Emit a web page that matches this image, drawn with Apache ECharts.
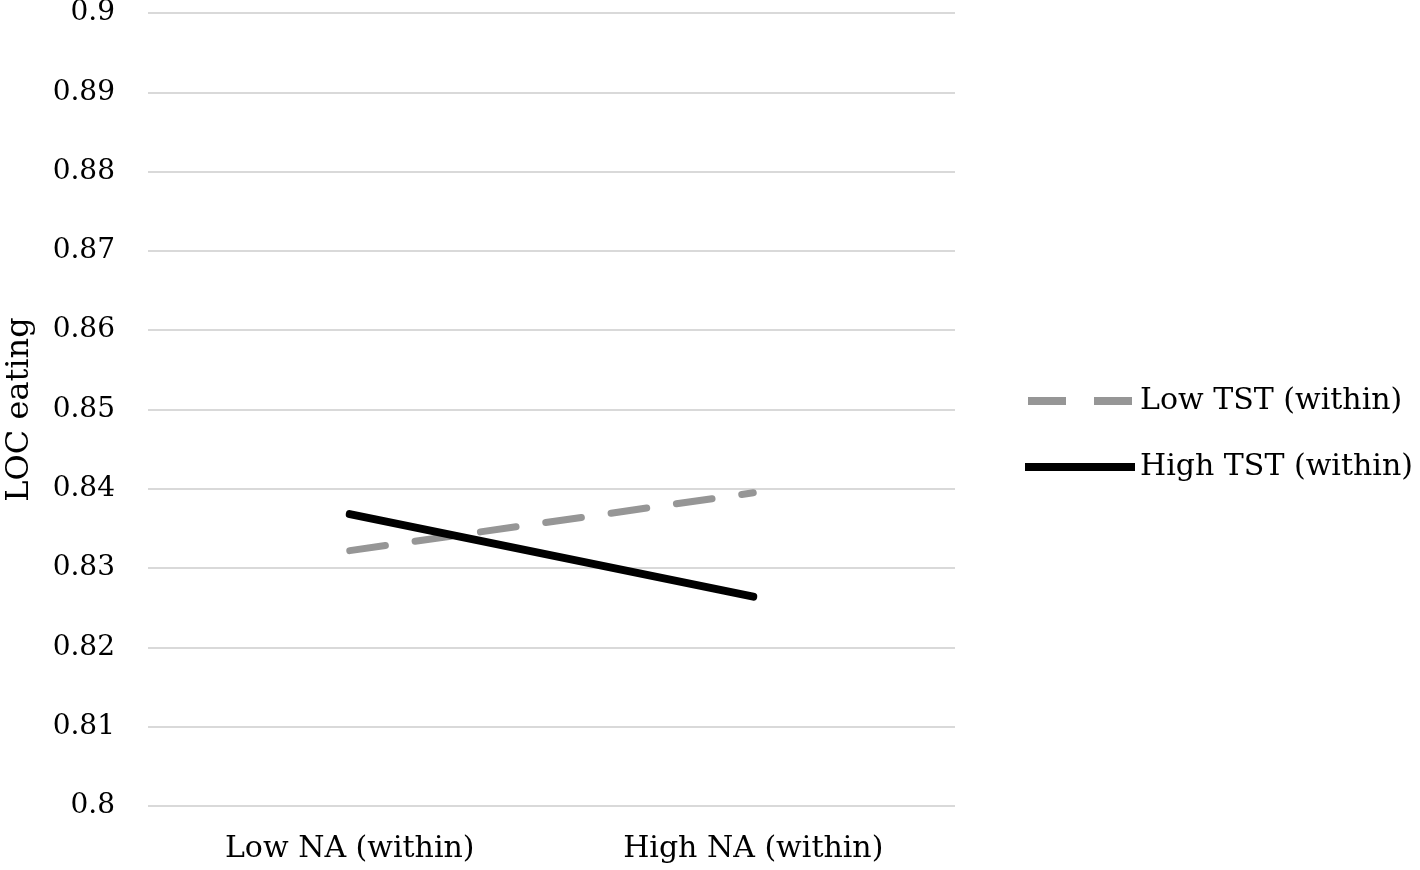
<!DOCTYPE html>
<html>
<head>
<meta charset="utf-8">
<script src="https://cdn.jsdelivr.net/npm/echarts@6/dist/echarts.min.js"></script>
<style>
  html, body { margin: 0; padding: 0; background: #fff; }
  #main { width: 1420px; height: 870px; }
</style>
</head>
<body>
<div id="main"></div>
<script>
// categories and values
var categories = ['Low NA (within)', 'High NA (within)'];
var lowTST = [0.8322, 0.8395];
var highTST = [0.8368, 0.8264];
var seriesNames = ['Low TST (within)', 'High TST (within)'];

var chart = echarts.init(document.getElementById('main'));
var serif = '"DejaVu Serif", "Liberation Serif", serif';

var option = {
    backgroundColor: '#fff',
    animation: false,
    grid: {
        left: 148,
        right: 465,
        top: 13,
        bottom: 64,
        outerBoundsMode: 'none'
    },
    legend: {
        orient: 'vertical',
        left: 1020,
        top: 381,
        itemWidth: 110,
        itemHeight: 8,
        itemGap: 36,
        itemTextGap: 8,
        textStyle: { fontFamily: serif, fontSize: 30, lineHeight: 30, color: '#000' },
        data: [
            {
                name: seriesNames[0],
                icon: 'path://M0,0H38V8H0Z M66,0H104V8H66Z',
                itemStyle: { color: '#969696' }
            },
            {
                name: seriesNames[1],
                icon: 'path://M0,0H110V8H0Z',
                itemStyle: { color: '#000' }
            }
        ]
    },
    xAxis: {
        type: 'category',
        data: categories,
        boundaryGap: true,
        axisLine: { show: false },
        axisTick: { show: false },
        axisLabel: { fontFamily: serif, fontSize: 30, color: '#000', margin: 28 }
    },
    yAxis: {
        type: 'value',
        min: 0.8,
        max: 0.9,
        interval: 0.01,
        name: 'LOC eating',
        nameLocation: 'middle',
        nameGap: 112,
        nameTextStyle: { fontFamily: serif, fontSize: 32, color: '#000' },
        axisLine: { show: false },
        axisTick: { show: false },
        axisLabel: {
            fontFamily: serif, fontSize: 28, color: '#000', margin: 33,
            formatter: function (v) { return String(Math.round(v * 100) / 100); }
        },
        splitLine: { lineStyle: { color: '#d9d9d9', width: 2 } }
    },
    series: [
        {
            name: seriesNames[0],
            type: 'line',
            data: lowTST,
            symbol: 'none',
            color: '#969696',
            lineStyle: { color: '#969696', width: 7, type: [36, 30], cap: 'round' }
        },
        {
            name: seriesNames[1],
            type: 'line',
            data: highTST,
            symbol: 'none',
            color: '#000',
            lineStyle: { color: '#000', width: 8, cap: 'round' }
        }
    ]
};

chart.setOption(option);
</script>
</body>
</html>
